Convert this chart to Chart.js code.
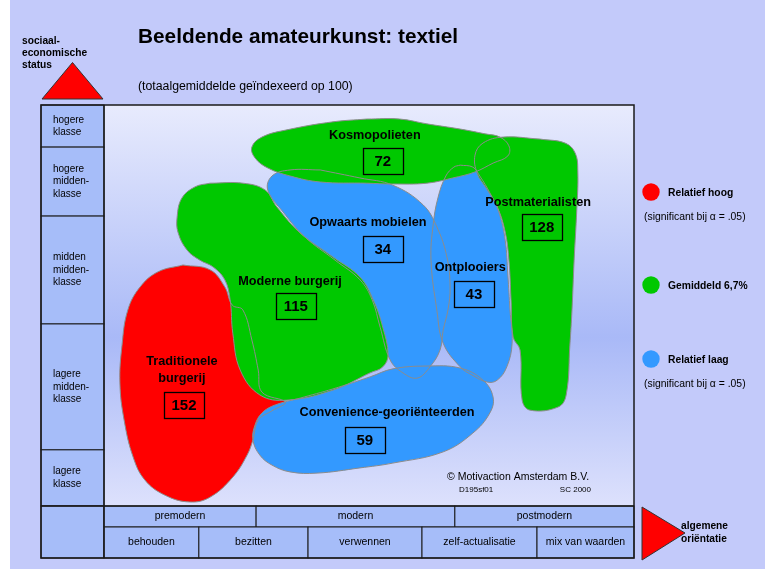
<!DOCTYPE html>
<html>
<head>
<meta charset="utf-8">
<script src="https://cdn.jsdelivr.net/npm/chart.js@4/dist/chart.umd.min.js"></script>
<style>
  html, body { margin: 0; padding: 0; background: #fff; }
  #page { margin-left: 10px; width: 755px; height: 569px; background: #c3cafa; overflow: hidden; }
  canvas { display: block; margin-left: -10px; }
</style>
</head>
<body>
<div id="page"><canvas id="map" width="765" height="569"></canvas></div>
<script>
// map units: x = algemene orientatie (0-100), y = sociaal-economische status (0-100)
const segmentNames = ['Kosmopolieten', 'Postmaterialisten', 'Moderne burgerij', 'Convenience-georiënteerden',
  'Ontplooiers', 'Opwaarts mobielen', 'Traditionele\nburgerij'];
const indexValues = [72, 128, 115, 59, 43, 34, 152];
const significance = ['gemiddeld', 'gemiddeld', 'gemiddeld', 'laag', 'laag', 'laag', 'hoog'];

// segment outlines
const kosmopolieten = [[49.6,96.5],[55.8,96.5],[60.9,95.3],[67.2,94.0],[71.9,92.8],[74.7,92.0],[76.4,89.8],[76.2,87.3],
  [73.4,85.5],[70.0,83.3],[65.8,81.8],[60.9,80.5],[54.5,80.3],[49.6,80.5],[40.8,80.8],[35.1,82.3],[30.9,84.3],
  [28.5,86.8],[27.9,89.5],[29.8,92.0],[34.5,93.8],[43.2,95.8],[49.6,96.5]];
const postmaterialisten = [[82.3,91.5],[87.0,90.5],[88.9,88.0],[89.4,83.3],[89.2,73.8],[88.7,61.3],[88.3,48.9],
  [87.9,40.1],[87.2,27.7],[85.7,24.7],[80.4,23.9],[78.9,26.4],[78.5,38.9],[77.2,42.1],[76.8,51.4],[76.4,61.3],
  [75.7,68.3],[74.2,74.6],[72.1,79.3],[70.4,83.0],[70.0,87.5],[71.5,90.5],[75.3,92.0],[82.3,91.5]];
const moderneBurgerij = [[20.0,80.5],[26.2,80.5],[30.4,78.8],[32.6,74.6],[37.0,68.1],[43.2,62.1],[48.3,57.1],
  [50.8,51.4],[52.6,44.6],[53.6,37.7],[52.6,34.7],[50.2,33.2],[43.2,28.9],[34.5,26.4],[29.4,27.7],[25.7,33.9],
  [24.3,43.1],[23.8,51.4],[22.8,56.4],[20.6,59.6],[18.1,61.3],[15.7,63.8],[14.0,68.1],[13.8,72.1],[14.7,76.8],
  [17.2,79.6],[20.0,80.5]];
const convenience = [[37.0,26.9],[43.2,29.2],[50.2,32.2],[54.5,34.2],[60.9,34.9],[67.2,34.4],[71.5,31.4],
  [73.4,27.2],[72.8,23.2],[69.6,18.2],[64.0,13.5],[54.5,10.7],[48.3,9.5],[40.2,8.2],[35.1,8.5],[31.7,10.2],
  [29.4,12.7],[28.1,16.5],[28.5,20.2],[29.8,23.2],[32.3,25.2],[37.0,26.9]];
const ontplooiers = [[67.2,85.0],[69.6,84.5],[70.9,82.3],[72.8,78.1],[74.5,73.3],[75.7,66.3],[76.2,57.6],
  [76.6,48.9],[77.0,40.6],[76.0,34.7],[74.2,31.4],[72.3,30.9],[69.4,32.7],[67.2,34.7],[64.0,40.6],[62.8,48.9],
  [61.7,61.3],[62.1,70.1],[63.0,76.8],[64.5,82.3],[66.0,84.5],[67.2,85.0]];
const opwaartsMobielen = [[40.8,83.8],[48.3,81.8],[54.5,80.0],[60.2,75.1],[62.8,69.6],[64.7,62.1],[65.3,54.6],
  [64.9,48.9],[64.0,43.9],[63.4,38.9],[61.5,34.7],[59.1,31.9],[56.4,33.2],[54.0,36.4],[52.1,44.6],[50.6,51.4],
  [48.3,56.4],[43.6,61.3],[37.9,67.1],[33.8,73.3],[30.9,78.8],[31.7,82.3],[35.1,83.8],[40.8,83.8]];
const traditioneleBurgerij = [[14.9,60.1],[20.0,58.9],[22.8,54.6],[24.2,50.1],[26.2,48.9],[27.9,41.4],[29.1,33.9],
  [29.8,28.4],[34.2,25.9],[31.9,23.9],[29.1,21.4],[28.1,16.5],[27.0,12.7],[24.3,7.2],[20.0,2.2],[16.2,1.0],
  [11.5,2.7],[7.7,6.5],[5.5,12.2],[3.8,21.4],[3.0,30.7],[3.4,40.1],[4.5,48.9],[6.8,54.6],[10.2,58.4],[14.9,60.1]];
const outlines = [kosmopolieten, postmaterialisten, moderneBurgerij, convenience, ontplooiers, opwaartsMobielen, traditioneleBurgerij];

// where the names and index boxes sit on the map
const nameAt = [[51.1,92.5],[81.9,75.8],[35.1,55.9],[53.4,23.2],[69.1,59.4],[49.8,70.6],[14.7,33.9]];
const boxAt = [[52.6,86.0],[82.6,69.6],[36.2,49.9],[49.2,16.5],[69.8,52.9],[52.6,64.1],[15.1,25.2]];

// axes
const statusClasses = ['hogere\nklasse', 'hogere\nmidden-\nklasse', 'midden\nmidden-\nklasse', 'lagere\nmidden-\nklasse', 'lagere\nklasse'];
const statusBounds = [100, 89.5, 72.3, 45.4, 14.0, 0];
const periods = ['premodern', 'modern', 'postmodern'];
const periodBounds = [0, 28.7, 66.2, 100];
const valueOrientations = ['behouden', 'bezitten', 'verwennen', 'zelf-actualisatie', 'mix van waarden'];
const valueBounds = [0, 17.9, 38.5, 60.0, 81.7, 100];

const legendLabels = ['Relatief hoog', 'Gemiddeld 6,7%', 'Relatief laag'];
const legendKeys = ['hoog', 'gemiddeld', 'laag'];

const colors = { hoog: '#ff0000', gemiddeld: '#00c800', laag: '#3399ff' };
const FONT = '"Liberation Sans", Arial, Helvetica, sans-serif';
const CELL = '#a6bdf9';
const LINE = '#1a1a1a';

function write(ctx, text, x, y, size, bold, align, lineHeight) {
  ctx.font = (bold ? 'bold ' : '') + size + 'px ' + FONT;
  ctx.textAlign = align || 'left';
  ctx.textBaseline = 'middle';
  ctx.fillStyle = '#000';
  const lines = text.split('\n');
  const lh = lineHeight || size * 1.25;
  lines.forEach((line, i) => ctx.fillText(line, x, y + (i - (lines.length - 1) / 2) * lh));
}

function cell(ctx, x, y, w, h) {
  ctx.fillStyle = CELL;
  ctx.fillRect(x, y, w, h);
  ctx.strokeRect(x, y, w, h);
}

const mapDecor = {
  id: 'mapDecor',
  beforeDraw(chart) {
    const { ctx, chartArea: a } = chart;
    ctx.save();
    const g = ctx.createLinearGradient(0, a.top, 0, a.bottom);
    g.addColorStop(0, '#e8ebfd');
    g.addColorStop(0.58, '#a9b9f7');
    g.addColorStop(1, '#dde1fc');
    ctx.fillStyle = g;
    ctx.fillRect(a.left, a.top, a.right - a.left, a.bottom - a.top);
    ctx.restore();
  },
  afterDraw(chart) {
    const { ctx, chartArea: a } = chart;
    const x = chart.scales.x, y = chart.scales.y;
    const left = 41, rowH1 = 21, rowH2 = 31;
    ctx.save();

    // segment names and index boxes
    segmentNames.forEach((name, i) => {
      write(ctx, name, x.getPixelForValue(nameAt[i][0]), y.getPixelForValue(nameAt[i][1]), 12.7, true, 'center', 17);
      const bx = x.getPixelForValue(boxAt[i][0]), by = y.getPixelForValue(boxAt[i][1]);
      ctx.strokeStyle = '#000';
      ctx.lineWidth = 1.3;
      ctx.strokeRect(Math.round(bx - 20) + 0.5, Math.round(by - 13) + 0.5, 40, 26);
      write(ctx, String(indexValues[i]), bx, by + 1, 15, true, 'center');
    });

    // copyright
    write(ctx, '© Motivaction Amsterdam B.V.', 447, 477, 10.5, false, 'left');
    write(ctx, 'D195sf01', 459, 490, 8, false, 'left');
    write(ctx, 'SC 2000', 591, 490, 8, false, 'right');

    ctx.strokeStyle = LINE;
    ctx.lineWidth = 1;
    // status classes (left column)
    statusClasses.forEach((name, i) => {
      const t = y.getPixelForValue(statusBounds[i]), b = y.getPixelForValue(statusBounds[i + 1]);
      cell(ctx, left, t, a.left - left, b - t);
      write(ctx, name, left + 12, (t + b) / 2, 10, false, 'left', 12.5);
    });
    // orientation rows (bottom)
    cell(ctx, left, a.bottom, a.left - left, rowH1 + rowH2);
    periods.forEach((name, i) => {
      const l = x.getPixelForValue(periodBounds[i]), r = x.getPixelForValue(periodBounds[i + 1]);
      cell(ctx, l, a.bottom, r - l, rowH1);
      write(ctx, name, (l + r) / 2, a.bottom + rowH1 / 2, 10.5, false, 'center');
    });
    valueOrientations.forEach((name, i) => {
      const l = x.getPixelForValue(valueBounds[i]), r = x.getPixelForValue(valueBounds[i + 1]);
      cell(ctx, l, a.bottom + rowH1, r - l, rowH2);
      write(ctx, name, (l + r) / 2, a.bottom + rowH1 + rowH2 / 2, 10.5, false, 'center');
    });
    // outer frame
    ctx.lineWidth = 1.5;
    ctx.strokeRect(left, a.top, a.right - left, a.bottom + rowH1 + rowH2 - a.top);
    ctx.beginPath();
    ctx.moveTo(a.left, a.top); ctx.lineTo(a.left, a.bottom + rowH1 + rowH2);
    ctx.moveTo(left, a.bottom); ctx.lineTo(a.right, a.bottom);
    ctx.stroke();

    // legend
    const legendY = [192, 285, 359];
    legendKeys.forEach((key, i) => {
      ctx.beginPath();
      ctx.arc(651, legendY[i], 8.7, 0, Math.PI * 2);
      ctx.fillStyle = colors[key];
      ctx.fill();
      write(ctx, legendLabels[i], 668, legendY[i] + 1, 10.3, true, 'left');
      if (key !== 'gemiddeld') write(ctx, '(significant bij α = .05)', 644, legendY[i] + 25, 10.4, false, 'left');
    });

    // axis arrows
    ctx.lineWidth = 1;
    ctx.strokeStyle = '#333';
    ctx.fillStyle = '#ff0000';
    ctx.beginPath();
    ctx.moveTo(42, 99); ctx.lineTo(103, 99); ctx.lineTo(72.5, 62.5); ctx.closePath();
    ctx.fill(); ctx.stroke();
    ctx.fillStyle = '#ff0000';
    ctx.beginPath();
    ctx.moveTo(642, 507); ctx.lineTo(642, 560); ctx.lineTo(685, 533); ctx.closePath();
    ctx.fill(); ctx.stroke();
    write(ctx, 'sociaal-\neconomische\nstatus', 22, 53, 10.2, true, 'left', 12);
    write(ctx, 'algemene\noriëntatie', 681, 533, 10.2, true, 'left', 13);

    // titles
    write(ctx, 'Beeldende amateurkunst: textiel', 138, 37, 20.8, true, 'left');
    write(ctx, '(totaalgemiddelde geïndexeerd op 100)', 138, 87, 12.3, false, 'left');
    ctx.restore();
  }
};

new Chart(document.getElementById('map'), {
  type: 'scatter',
  data: {
    datasets: segmentNames.map((name, i) => ({
      label: name,
      data: outlines[i].map(([px, py]) => ({ x: px, y: py })),
      showLine: true,
      fill: 'shape',
      backgroundColor: colors[significance[i]],
      borderColor: '#8c8c8c',
      borderWidth: 1,
      pointRadius: 0,
      tension: 0.4
    }))
  },
  options: {
    responsive: false,
    devicePixelRatio: 1,
    animation: false,
    events: [],
    layout: { padding: { left: 104, top: 105, right: 131, bottom: 63 } },
    scales: {
      x: { type: 'linear', min: 0, max: 100, display: false },
      y: { type: 'linear', min: 0, max: 100, display: false }
    },
    plugins: {
      legend: { display: false },
      tooltip: { enabled: false },
      filler: { drawTime: 'beforeDatasetsDraw' }
    }
  },
  plugins: [mapDecor]
});
</script>
</body>
</html>
